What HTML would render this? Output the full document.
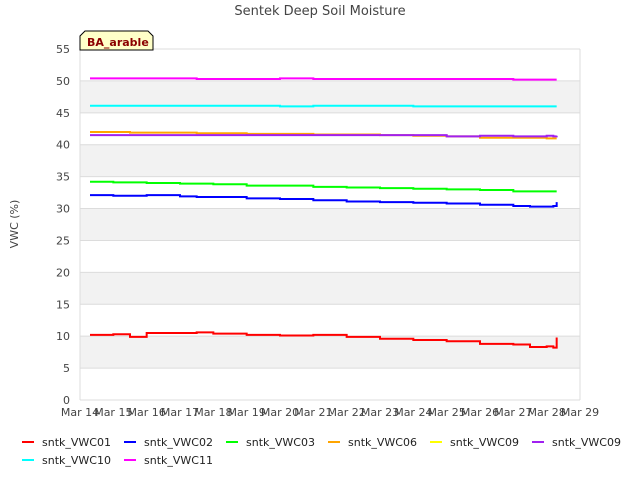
<!DOCTYPE html>
<html><head><meta charset="utf-8"><style>
body{margin:0;background:#fff;font-family:"Liberation Sans","DejaVu Sans",sans-serif}
svg text{font-family:"DejaVu Sans","Liberation Sans",sans-serif}
</style></head><body>
<svg id="c" width="640" height="480" xmlns="http://www.w3.org/2000/svg">
<text x="320" y="15" text-anchor="middle" font-size="13" fill="#444">Sentek Deep Soil Moisture</text>
<text x="18" y="224" text-anchor="middle" font-size="11" fill="#444" transform="rotate(-90 18 224)">VWC (%)</text>
<g id="plot"></g>
<g>
<path d="M80,50 L80,36 L85,31 L148,31 L153,36 L153,50 Z" fill="#ffffc8" stroke="#000" stroke-width="1"/>
<text x="87" y="46" font-size="11" font-weight="bold" fill="#8b0000">BA_arable</text>
</g>
<g id="legend"></g>
</svg>
<script>
const days=[14.3,15,15.5,16,16.5,17,17.5,18,19,20,21,22,23,24,25,26,27,27.5,28,28.2,28.3];
const vwc01=[10.2,10.3,9.9,10.5,10.5,10.5,10.6,10.4,10.2,10.1,10.2,9.9,9.6,9.4,9.2,8.8,8.7,8.3,8.4,8.2,9.8];
const vwc02=[32.1,32.0,32.0,32.1,32.1,31.9,31.8,31.8,31.6,31.5,31.3,31.1,31.0,30.9,30.8,30.6,30.4,30.3,30.3,30.4,31.0];
const vwc03=[34.2,34.1,34.1,34.0,34.0,33.9,33.9,33.8,33.6,33.6,33.4,33.3,33.2,33.1,33.0,32.9,32.7,32.7,32.7,32.7,32.7];
const vwc06=[42.0,42.0,41.9,41.9,41.9,41.9,41.8,41.8,41.7,41.7,41.6,41.6,41.5,41.4,41.3,41.1,41.1,41.1,41.0,41.0,41.0];
const vwc09a=[41.5,41.5,41.5,41.5,41.5,41.5,41.5,41.5,41.5,41.5,41.5,41.5,41.5,41.5,41.3,41.4,41.3,41.3,41.4,41.3,41.4];
const vwc10=[46.1,46.1,46.1,46.1,46.1,46.1,46.1,46.1,46.1,46.0,46.1,46.1,46.1,46.0,46.0,46.0,46.0,46.0,46.0,46.0,46.0];
const vwc11=[50.4,50.4,50.4,50.4,50.4,50.4,50.3,50.3,50.3,50.4,50.3,50.3,50.3,50.3,50.3,50.3,50.2,50.2,50.2,50.2,50.2];
const series=[["sntk_VWC01","#ff0000",vwc01],["sntk_VWC02","#0000ff",vwc02],["sntk_VWC03","#00ff00",vwc03],["sntk_VWC06","#ffa500",vwc06],["sntk_VWC09","#ffff00",null],["sntk_VWC09","#a020f0",vwc09a],["sntk_VWC10","#00ffff",vwc10],["sntk_VWC11","#ff00ff",vwc11]];
const yTicks=[0,5,10,15,20,25,30,35,40,45,50,55];
const xTicks=[14,15,16,17,18,19,20,21,22,23,24,25,26,27,28,29];
const X0=80,X1=580,Y0=400,Y1=49;
const x=d=>X0+(d-14)/15*(X1-X0);
const y=v=>Y0-v/55*(Y0-Y1);
const NS="http://www.w3.org/2000/svg";
const P=document.getElementById('plot');
function mk(t,a,p){const e=document.createElementNS(NS,t);for(const k in a)e.setAttribute(k,a[k]);(p||P).appendChild(e);return e;}
for(let v=5;v<55;v+=10){const r=mk('rect',{x:X0,y:y(v+5),width:X1-X0,height:y(v)-y(v+5),fill:'#f2f2f2'});

}
yTicks.forEach(v=>{const l=mk('line',{x1:X0,x2:X1,y1:y(v),y2:y(v),stroke:'#dcdcdc'});


const t=mk('text',{x:X0-10,y:y(v)+4,'text-anchor':'end','font-size':11,fill:'#444'});t.textContent=v;

});
mk('line',{x1:X0,x2:X0,y1:Y1,y2:Y0,stroke:'#dcdcdc'});mk('line',{x1:X1,x2:X1,y1:Y1,y2:Y0,stroke:'#dcdcdc'});
xTicks.forEach(d=>{const t=mk('text',{x:x(d),y:Y0+16,'text-anchor':'middle','font-size':11,fill:'#444'});t.textContent='Mar '+d;

});
series.forEach(s=>{if(!s[2])return;let p='';s[2].forEach((v,i)=>{if(i==0)p+='M'+x(days[i])+','+y(v);else p+='H'+x(days[i])+'V'+y(v);});
const e=mk('path',{d:p,fill:'none',stroke:s[1],'stroke-width':2});

});
const L=document.getElementById('legend');
series.forEach((s,i)=>{const col=i%6,row=Math.floor(i/6);const lx=22+col*102,ly=442+row*18;
const g=mk('g',{},L);


mk('line',{x1:lx,x2:lx+12,y1:ly,y2:ly,stroke:s[1],'stroke-width':2},g);
const t=mk('text',{x:lx+20,y:ly+4,'font-size':11,fill:'#222'},g);t.textContent=s[0];});
</script>
</body></html>
